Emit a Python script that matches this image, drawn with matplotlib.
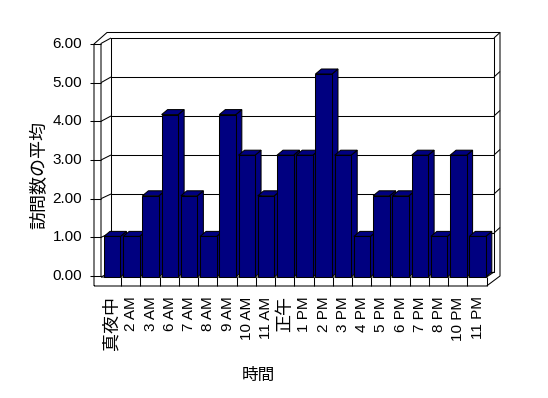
import numpy as np
import matplotlib
matplotlib.use("Agg")
import matplotlib.pyplot as plt
from matplotlib.patches import Polygon

plt.rcParams['font.family'] = ['Liberation Sans', 'Noto Sans CJK JP']

# データ
hours = ['真夜中', '2 AM', '3 AM', '6 AM', '7 AM', '8 AM', '9 AM', '10 AM', '11 AM', '正午',
         '1 PM', '2 PM', '3 PM', '4 PM', '5 PM', '6 PM', '7 PM', '8 PM', '10 PM', '11 PM']
visits = [1, 1, 2, 4, 2, 1, 4, 3, 2, 3, 3, 5, 3, 1, 2, 2, 3, 1, 3, 1]
y_ticks = [0, 1, 2, 3, 4, 5, 6]
y_labels = ['%.2f' % v for v in y_ticks]

W, H = 548, 398
NAVY = '#000080'
LW = 0.75

# 枠の位置 (ピクセル)
floor_l, floor_r = 102, 486.6
floor_y, floor_b = 277, 286
unit = 40.6
wall_x0, wall_x1 = 94, 101
back_l, back_r, back_t, back_b = 111, 494, 38, 272
out_l, out_r, out_t = 107, 500, 32.5


def yf(v):
    # 前面の目盛り位置
    return 276 - 38.67 * v


def yb(v):
    # 奥の壁の目盛り位置
    return back_b - 39 * v


fig = plt.figure(figsize=(W / 100, H / 100), dpi=100)
bg = fig.add_axes([0, 0, 1, 1])
bg.set_xlim(0, W)
bg.set_ylim(H, 0)
bg.axis('off')


def line(xs, ys):
    bg.plot(xs, ys, color='black', lw=LW, solid_capstyle='butt')


# 外枠
line([wall_x0, wall_x0, out_l, out_r, out_r, floor_r, wall_x0],
     [floor_b, yf(6), out_t, out_t, 276, floor_b, floor_b])
# 左の壁
line([wall_x1, wall_x1, back_l], [floor_y, yf(6) - 0.5, back_t])
line([wall_x1, back_l], [floor_y, back_b])
# 奥の壁
line([back_l, back_r, back_r, back_l, back_l], [back_t, back_t, back_b, back_b, back_t])
line([back_r, out_r], [back_t, out_t])
# 床
line([wall_x1, floor_r, back_r], [floor_y, floor_y, back_b])
line([floor_r, floor_r], [floor_y, floor_b])
cat_w = (floor_r - floor_l) / len(hours)
for k in range(1, len(hours)):
    line([floor_l + k * cat_w] * 2, [floor_y, floor_b])

# 目盛り線
for v in y_ticks:
    line([90, wall_x1], [yf(v), yf(v)])
    if 0 < v < 6:
        line([wall_x1, back_l], [yf(v), yb(v)])
        line([back_l, back_r], [yb(v), yb(v)])
        line([back_r, out_r], [yb(v), yb(v) - 5.5])
    bg.text(82, yf(v), y_labels[v], ha='right', va='center', fontsize=11)

bg.text(40, 175, '訪問数の平均', rotation=90, ha='center', va='center', fontsize=13)
bg.text(258, 375, '時間', ha='center', va='center', fontsize=12)

# 棒グラフ
ax = fig.add_axes([floor_l / W, (H - floor_y) / H, (floor_r - floor_l) / W, 6 * unit / H])
ax.set_xlim(-0.53, len(hours) - 0.53)
ax.set_ylim(0, 6)
ax.patch.set_visible(False)
for s in ax.spines.values():
    s.set_visible(False)

x = np.arange(len(hours))
bw = 16.5 / cat_w
ddx = 6 / cat_w
ddy = 5 / unit
bars = ax.bar(x, visits, width=bw, color=NAVY, edgecolor='black', linewidth=LW)
for i, (b, v) in enumerate(zip(bars, visits)):
    z = 2 + i * 0.05
    xl, xr = i - bw / 2, i + bw / 2
    top = Polygon([(xl, v), (xr, v), (xr + ddx, v + ddy), (xl + ddx, v + ddy)],
                  closed=True, fc=NAVY, ec='black', lw=LW, zorder=z, clip_on=False)
    side = Polygon([(xr, 0), (xr + ddx, ddy), (xr + ddx, v + ddy), (xr, v)],
                   closed=True, fc=NAVY, ec='black', lw=LW, zorder=z, clip_on=False)
    ax.add_patch(side)
    ax.add_patch(top)
    b.set_zorder(z + 0.01)
    b.set_clip_on(False)

ax.set_yticks([])
ax.set_xticks(x, hours, rotation=90)
ax.tick_params(axis='x', length=0, pad=14, labelsize=11)
for lbl in ax.get_xticklabels():
    if not lbl.get_text().isascii():
        lbl.set_fontsize(13)

fig.savefig('out.png', dpi=100)
